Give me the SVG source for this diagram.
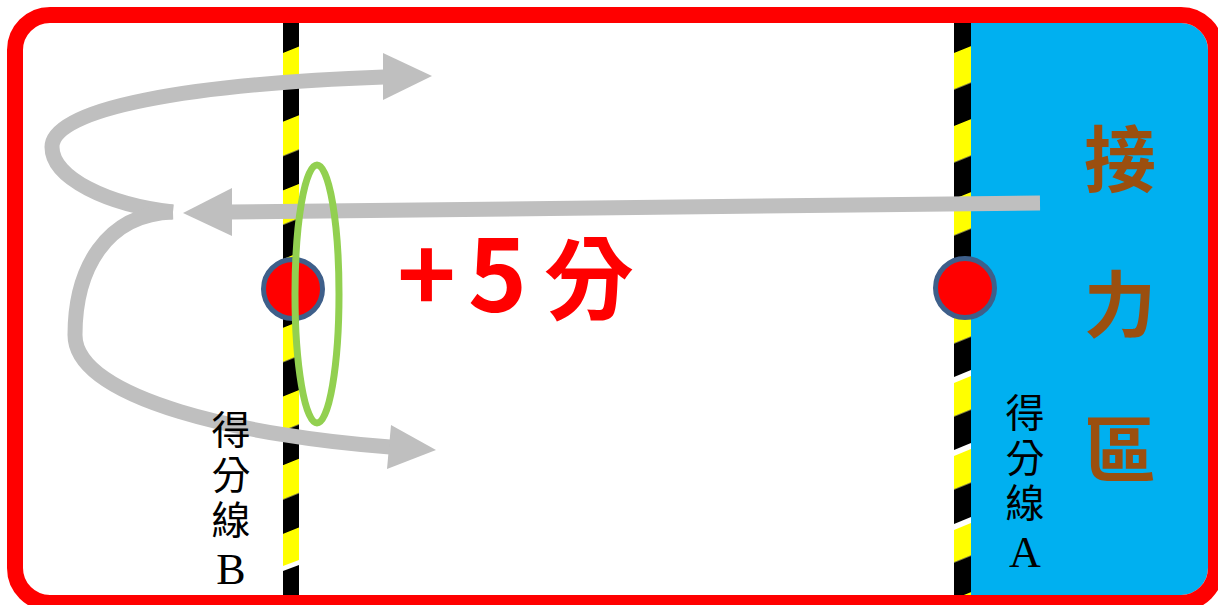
<svg xmlns="http://www.w3.org/2000/svg" width="1218" height="605" viewBox="0 0 1218 605">
  <style>
    .arrow-line { fill: none; stroke: #BFBFBF; stroke-width: 15; stroke-linecap: butt; }
    .arrow-head { fill: #BFBFBF; }
    .dot { fill: #FF0000; stroke: #3E5F8A; stroke-width: 5; }
    .gap { fill: #FFFFFF; }
    .lbl { font-family: "Noto Sans CJK TC", "Liberation Serif", serif; font-size: 39px; fill: #000000; writing-mode: vertical-rl; text-orientation: upright; letter-spacing: 6px; }
    .lat { font-family: "Liberation Serif", serif; font-size: 44px; }
    .zone { font-family: "Noto Sans CJK TC", "Noto Sans", sans-serif; font-weight: bold; font-size: 72px; fill: #9B4F0F; text-anchor: middle; }
  </style>
  <defs>
    <pattern id="hazB" patternUnits="userSpaceOnUse" width="40" height="68.7" patternTransform="translate(283,53) skewY(-22)">
      <rect x="0" y="0" width="40" height="34.35" fill="#FFFF00"/>
      <rect x="0" y="34.35" width="40" height="34.35" fill="#000000"/>
    </pattern>
    <pattern id="hazA1" patternUnits="userSpaceOnUse" width="40" height="73" patternTransform="translate(954,53) skewY(-22)">
      <rect x="0" y="0" width="40" height="36.5" fill="#FFFF00"/>
      <rect x="0" y="36.5" width="40" height="36.5" fill="#000000"/>
    </pattern>
    <pattern id="hazA2" patternUnits="userSpaceOnUse" width="40" height="73" patternTransform="translate(954,380) skewY(-22)">
      <rect x="0" y="0" width="40" height="36.5" fill="#FFFF00"/>
      <rect x="0" y="36.5" width="40" height="36.5" fill="#000000"/>
    </pattern>
  </defs>

  <rect x="0" y="0" width="1218" height="605" fill="#FFFFFF"/>

  <g id="relay-zone">
    <path d="M971,23 H1181 A27,27 0 0 1 1208,50 V568 A27,27 0 0 1 1181,595 H971 Z" fill="#00B0F0"/>
    <text class="zone"><tspan x="1120" y="186">接</tspan><tspan x="1120" y="331">力</tspan><tspan x="1120" y="476">區</tspan></text>
  </g>

  <g id="line-B">
    <rect x="283" y="23" width="16" height="572" fill="url(#hazB)"/>
    <polygon class="gap" points="283,566 299,560 299,565 283,571"/>
  </g>

  <g id="line-A">
    <rect x="954" y="23" width="17" height="280" fill="url(#hazA1)"/>
    <rect x="954" y="300" width="17" height="295" fill="url(#hazA2)"/>
    <polygon class="gap" points="954,377 971,370 971,376 954,383"/>
    <polygon class="gap" points="954,450 971,443 971,449 954,456"/>
    <polygon class="gap" points="954,524 971,517 971,523 954,530"/>
  </g>

  <g id="border">
    <rect x="15" y="15" width="1201" height="588" rx="35" ry="35" fill="none" stroke="#FF0000" stroke-width="16"/>
  </g>

  <g id="connectors">
    <path class="arrow-line" d="M1040,203 L230,212"/>
    <polygon class="arrow-head" points="232,188 183,213 232,236"/>
    <path class="arrow-line" d="M173,212 C108,205 52,178 52,147 C52,108 190,84 384,77"/>
    <polygon class="arrow-head" points="383,53 432,76 383,100"/>
    <path class="arrow-line" d="M173,212 C105,214 75,270 75,335 C75,400 250,437 390,447"/>
    <polygon class="arrow-head" points="391,425 436,450 387,469"/>
  </g>

  <g id="point-B">
    <circle class="dot" cx="293" cy="289" r="29.5"/>
  </g>
  <g id="point-A">
    <circle class="dot" cx="965" cy="288" r="29.5"/>
  </g>

  <g id="pass-ring">
    <ellipse cx="317" cy="294" rx="22" ry="129" fill="none" stroke="#92D050" stroke-width="7"/>
  </g>

  <g id="score">
    <text font-family="'Noto Sans CJK TC', 'Noto Sans', sans-serif" font-weight="bold" fill="#FF0000" y="312"><tspan x="397" font-size="100">+</tspan><tspan x="468" font-size="100">5 </tspan><tspan x="544" font-size="90">分</tspan></text>
  </g>

  <g id="label-B">
    <text class="lbl" x="231" y="410">得分線<tspan class="lat">B</tspan></text>
  </g>

  <g id="label-A">
    <text class="lbl" x="1025" y="393">得分線<tspan class="lat">A</tspan></text>
  </g>
</svg>
